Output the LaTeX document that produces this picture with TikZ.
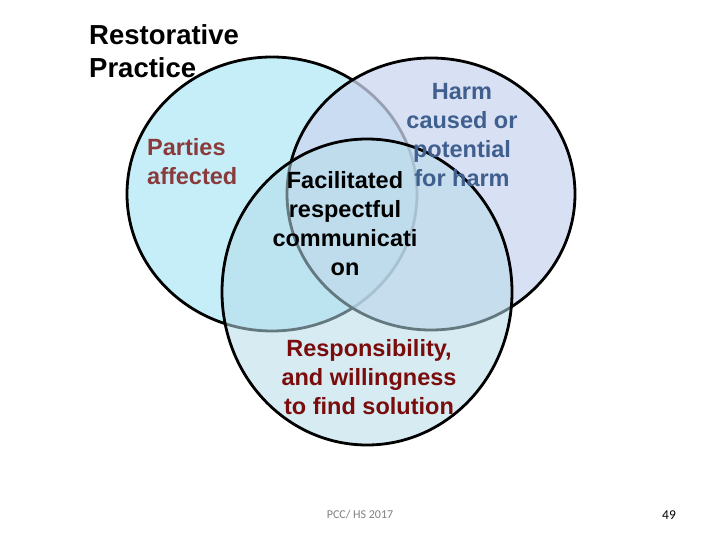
\documentclass[tikz,border=0pt]{standalone}
\usepackage{fontspec}
\setmainfont{Liberation Sans}
\newfontfamily\slidefont{Carlito}

\definecolor{partiesfill}{HTML}{C5EEF9}
\definecolor{harmfill}{HTML}{CBD6EF}
\definecolor{respfill}{HTML}{B6DCE9}
\definecolor{partiestext}{HTML}{8A3A3A}
\definecolor{harmtext}{HTML}{3F5F8F}
\definecolor{resptext}{HTML}{7A0C0C}

\tikzset{
    ring/.style={draw=black, line width=2.8pt},
    bigtitle/.style={font=\fontsize{27.5}{33}\selectfont\bfseries, align=left, anchor=west, inner sep=0pt},
    venntext/.style={font=\fontsize{23.5}{29}\selectfont\bfseries, align=center, inner sep=0pt},
    footer/.style={font=\slidefont\fontsize{12}{14}\selectfont, inner sep=0pt}
}

\begin{document}
\begin{tikzpicture}[x=1pt, y=-1pt]

    % Fond de la page
    \fill[white] (0,0) rectangle (720,540);
    \useasboundingbox (0,0) rectangle (720,540);

    % Les trois cercles
    \draw[ring, fill=partiesfill] (272,194) ellipse [x radius=145, y radius=137];
    \draw[ring, fill=harmfill, fill opacity=0.75] (431,194) ellipse [x radius=144, y radius=136];
    \draw[ring, fill=respfill, fill opacity=0.55] (367,292) ellipse [x radius=145, y radius=153];

    % Titre
    \node[bigtitle] (title) at (89,51) {Restorative\\Practice};

    % Textes des cercles
    \node[venntext, text=partiestext, align=left, anchor=west] (parties) at (147,162) {Parties\\affected};
    \node[venntext, text=harmtext] (harm) at (462,135) {Harm\\caused or\\potential\\for harm};
    \node[venntext] (facil) at (345,224) {Facilitated\\respectful\\communicati\\on};
    \node[venntext, text=resptext] (resp) at (369,377.5) {Responsibility,\\and willingness\\to find solution};

    % Pied de page
    \node[footer, text=gray] (source) at (360,515) {PCC/ HS 2017};
    \node[footer, font=\slidefont\fontsize{13.5}{15}\selectfont] (page) at (669,515) {49};

\end{tikzpicture}
\end{document}
